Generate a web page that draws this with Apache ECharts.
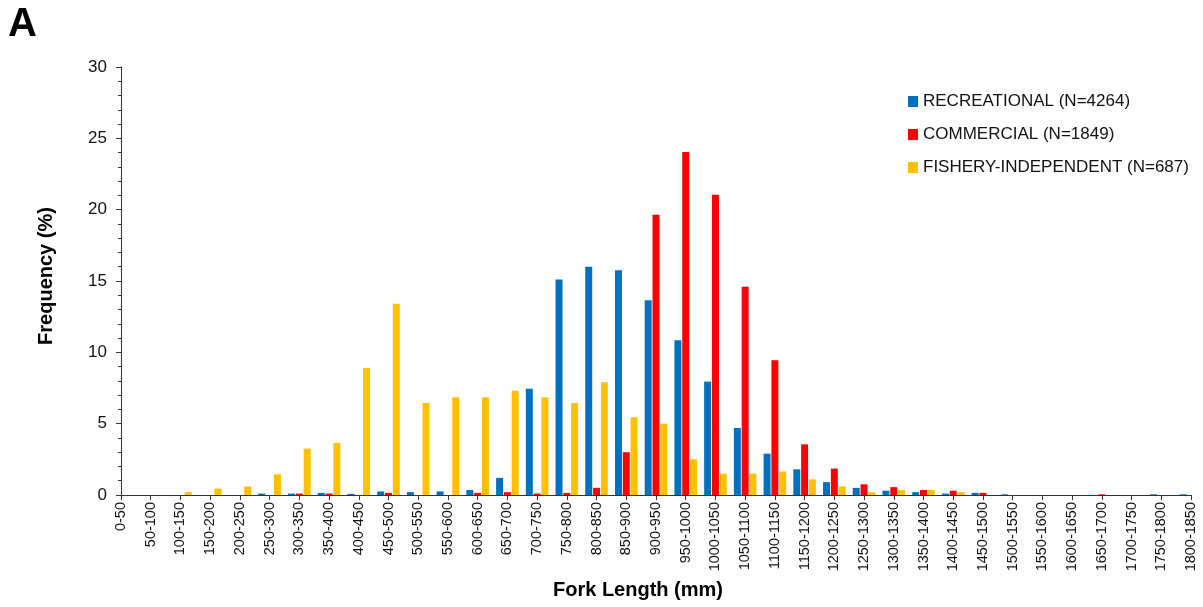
<!DOCTYPE html>
<html>
<head>
<meta charset="utf-8">
<script src="https://cdn.jsdelivr.net/npm/echarts@6/dist/echarts.min.js"></script>
<style>
  html, body { margin: 0; padding: 0; background: #fff; }
  #chart { width: 1203px; height: 607px; }
</style>
</head>
<body>
<div id="chart"></div>
<script>
const bins = [
  '0-50', '50-100', '100-150', '150-200', '200-250', '250-300', '300-350', '350-400',
  '400-450', '450-500', '500-550', '550-600', '600-650', '650-700', '700-750', '750-800',
  '800-850', '850-900', '900-950', '950-1000', '1000-1050', '1050-1100', '1100-1150',
  '1150-1200', '1200-1250', '1250-1300', '1300-1350', '1350-1400', '1400-1450',
  '1450-1500', '1500-1550', '1550-1600', '1600-1650', '1650-1700', '1700-1750',
  '1750-1800', '1800-1850'
]

const recreational = [
  0, 0, 0, 0, 0, 0.1, 0.1, 0.15, 0.08, 0.25, 0.2, 0.25, 0.35, 1.2, 7.45, 15.1,
  16.0, 15.75, 13.65, 10.85, 7.95, 4.7, 2.9, 1.8, 0.9, 0.5, 0.3, 0.2, 0.1, 0.15,
  0.05, 0, 0, 0, 0, 0.05, 0.05
]
const commercial = [
  0, 0, 0, 0, 0, 0, 0.1, 0.1, 0, 0.15, 0, 0, 0.15, 0.2, 0.1, 0.15,
  0.5, 3.0, 19.65, 24.05, 21.05, 14.6, 9.45, 3.55, 1.85, 0.75, 0.55, 0.35, 0.3, 0.15,
  0, 0, 0, 0.05, 0, 0, 0
]
const fisheryIndependent = [
  0, 0, 0.2, 0.45, 0.6, 1.45, 3.25, 3.65, 8.9, 13.4, 6.45, 6.85, 6.85, 7.3, 6.85, 6.45,
  7.9, 5.45, 5.0, 2.5, 1.5, 1.5, 1.65, 1.1, 0.6, 0.2, 0.35, 0.35, 0.2, 0,
  0, 0, 0, 0, 0, 0, 0
]

const seriesNames = ['RECREATIONAL (N=4264)', 'COMMERCIAL (N=1849)', 'FISHERY-INDEPENDENT (N=687)']
const seriesColors = ['#0070C0', '#FF0000', '#FFC000']

const font = 'Liberation Sans, Arial, sans-serif'
const chart = echarts.init(document.getElementById('chart'), null, { renderer: 'canvas' })

const makeBar = (name, data, color) => ({
  name: name,
  type: 'bar',
  data: data,
  barGap: '12%',
  barCategoryGap: '24%',
  itemStyle: { color: color },
  emphasis: { disabled: true }
})

const option = {
  animation: false,
  textStyle: { fontFamily: font },
  grid: { left: 121, right: 12, top: 67, bottom: 112 },
  legend: {
    orient: 'vertical',
    left: 903,
    top: 88,
    icon: 'rect',
    itemWidth: 10,
    itemHeight: 11,
    itemGap: 16,
    selectedMode: false,
    textStyle: { fontSize: 17, color: '#111', fontFamily: font }
  },
  xAxis: {
    type: 'category',
    data: bins,
    boundaryGap: false,
    axisLine: { lineStyle: { color: '#333', width: 1 } },
    axisTick: { show: true, length: 5, interval: 0, lineStyle: { color: '#333' } },
    axisLabel: {
      interval: 0,
      rotate: 90,
      margin: 7,
      fontSize: 14.5,
      color: '#111',
      fontFamily: font
    },
    splitLine: { show: false }
  },
  yAxis: {
    type: 'value',
    min: 0,
    max: 30,
    interval: 5,
    axisLine: { show: true, lineStyle: { color: '#333', width: 1 } },
    axisTick: { show: true, length: 5, lineStyle: { color: '#333' } },
    minorTick: { show: true, splitNumber: 5, length: 3, lineStyle: { color: '#333' } },
    axisLabel: { fontSize: 17, color: '#111', margin: 14, fontFamily: font },
    splitLine: { show: false }
  },
  graphic: [
    {
      type: 'text',
      left: 8,
      top: 5,
      style: { text: 'A', font: 'bold 40px ' + font, fill: '#000' }
    },
    {
      type: 'text',
      x: 638,
      y: 590,
      style: {
        text: 'Fork Length (mm)',
        font: 'bold 20px ' + font,
        fill: '#000',
        align: 'center',
        verticalAlign: 'middle'
      }
    },
    {
      type: 'text',
      x: 46,
      y: 276,
      rotation: Math.PI / 2,
      style: {
        text: 'Frequency (%)',
        font: 'bold 20px ' + font,
        fill: '#000',
        align: 'center',
        verticalAlign: 'middle'
      }
    }
  ],
  series: [
    makeBar(seriesNames[0], recreational, seriesColors[0]),
    makeBar(seriesNames[1], commercial, seriesColors[1]),
    makeBar(seriesNames[2], fisheryIndependent, seriesColors[2])
  ]
}

chart.setOption(option)
</script>
</body>
</html>
